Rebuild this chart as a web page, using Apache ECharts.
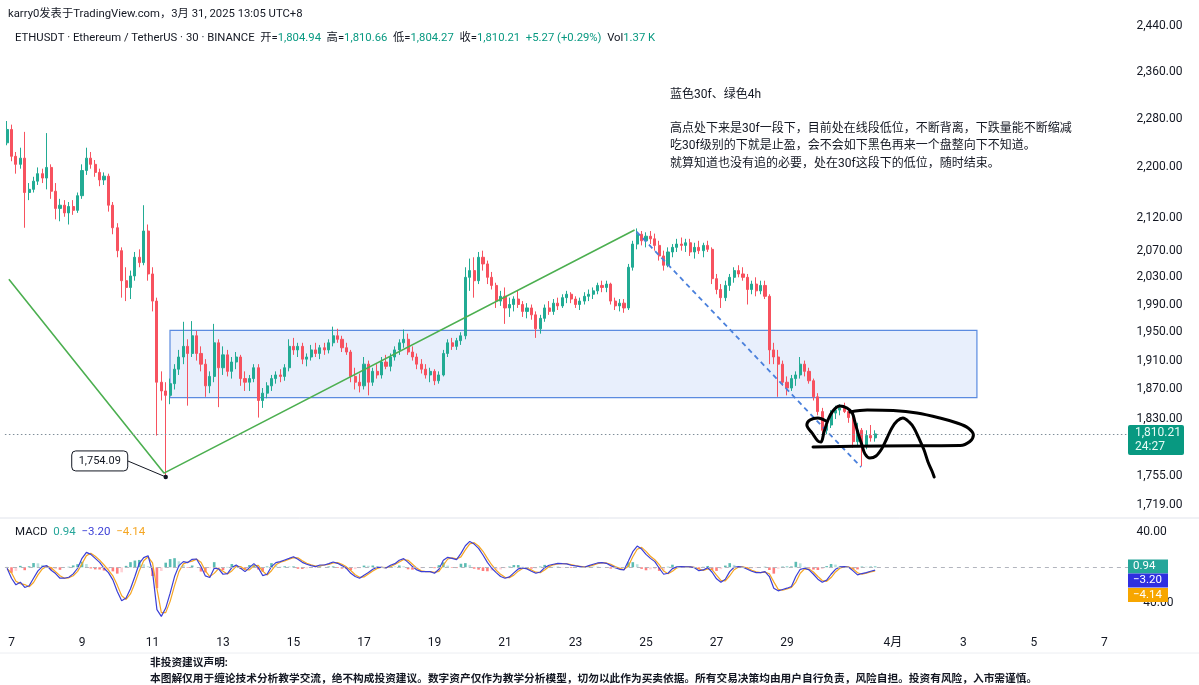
<!DOCTYPE html>
<html><head><meta charset="utf-8">
<script src="https://cdn.jsdelivr.net/npm/echarts@6/dist/echarts.min.js"></script>
<style>html,body{margin:0;padding:0;background:#fff}#c{width:1199px;height:685px}</style>
</head><body><div id="c"></div>
<script>
// 3-hour candles: [open, close, low, high]; bar 0 = Mar 6 21:00 (UTC+8)
const ohlc = [
[2240,2262,2236,2276],[2262,2218,2210,2270],[2218,2205,2190,2225],[2205,2215,2198,2232],[2215,2160,2105,2258],
[2160,2165,2148,2175],[2165,2178,2160,2185],[2178,2190,2172,2200],[2190,2183,2175,2198],[2183,2200,2165,2256],
[2200,2162,2150,2205],[2162,2135,2118,2175],[2135,2140,2115,2150],[2140,2128,2122,2148],[2128,2138,2110,2145],
[2138,2132,2125,2148],[2132,2155,2128,2160],[2155,2195,2150,2205],[2195,2215,2188,2232],[2215,2205,2198,2225],
[2205,2192,2185,2212],[2192,2180,2170,2198],[2180,2186,2172,2192],[2186,2140,2130,2190],[2140,2105,2095,2145],
[2105,2070,2060,2112],[2070,2025,2000,2075],[2025,2015,1995,2045],[2015,2032,1998,2040],[2032,2060,2025,2068],
[2060,2052,2045,2072],[2052,2100,2048,2140],[2100,2035,2025,2110],[2035,1995,1980,2045],[1995,1880,1808,2000],
[1880,1868,1855,1895],[1868,1862,1754.09,1880],[1862,1878,1850,1885],[1878,1898,1870,1905],[1898,1915,1890,1925],
[1915,1930,1905,1965],[1930,1920,1848,1940],[1920,1945,1915,1966],[1945,1920,1910,1952],[1920,1905,1895,1930],
[1905,1875,1860,1912],[1875,1888,1865,1895],[1888,1935,1880,1962],[1935,1900,1846,1940],[1900,1918,1890,1930],
[1918,1895,1888,1925],[1895,1908,1885,1915],[1908,1915,1898,1922],[1915,1885,1875,1918],[1885,1880,1868,1895],
[1880,1885,1868,1890],[1885,1900,1880,1905],[1900,1855,1832,1905],[1855,1865,1845,1872],[1865,1875,1858,1880],
[1875,1885,1868,1890],[1885,1890,1878,1895],[1890,1888,1880,1898],[1888,1900,1882,1905],[1900,1930,1895,1940],
[1930,1925,1918,1942],[1925,1930,1915,1935],[1930,1912,1905,1935],[1912,1915,1902,1920],[1915,1925,1910,1932],
[1925,1920,1915,1935],[1920,1928,1912,1932],[1928,1925,1918,1935],[1925,1935,1920,1940],[1935,1945,1930,1958],
[1945,1940,1935,1955],[1940,1928,1922,1945],[1928,1922,1918,1935],[1922,1888,1880,1925],[1888,1880,1870,1900],
[1880,1875,1866,1892],[1875,1905,1870,1915],[1905,1880,1862,1910],[1880,1895,1875,1900],[1895,1890,1885,1905],
[1890,1908,1885,1915],[1908,1902,1898,1918],[1902,1915,1895,1920],[1915,1925,1910,1930],[1925,1935,1918,1940],
[1935,1940,1928,1954],[1940,1922,1918,1948],[1922,1915,1910,1930],[1915,1905,1898,1920],[1905,1898,1892,1912],
[1898,1890,1885,1905],[1890,1895,1880,1900],[1895,1882,1876,1898],[1882,1890,1878,1895],[1890,1920,1888,1925],
[1920,1935,1915,1940],[1935,1930,1925,1942],[1930,1938,1925,1942],[1938,1945,1932,1950],[1945,2030,1940,2045],
[2030,2040,2010,2058],[2040,2025,2000,2060],[2025,2060,2020,2068],[2060,2050,2040,2070],[2050,2030,2020,2055],
[2030,2018,2012,2038],[2018,1995,1985,2022],[1995,2002,1988,2010],[2002,1985,1962,2015],[1985,1990,1972,2000],
[1990,1998,1980,2002],[1998,1990,1985,2010],[1990,1980,1972,1995],[1980,1985,1970,1992],[1985,1975,1968,1990],
[1975,1955,1942,1980],[1955,1970,1948,1975],[1970,1985,1965,1990],[1985,1980,1975,1995],[1980,1992,1975,1998],
[1992,1988,1982,2000],[1988,2000,1985,2005],[2000,2005,1992,2010],[2005,1998,1992,2008],[1998,1990,1985,2002],
[1990,1995,1982,2000],[1995,2002,1990,2008],[2002,2005,1995,2012],[2005,2010,1998,2015],[2010,2018,2005,2022],
[2018,2015,2008,2025],[2015,2020,2008,2025],[2020,1995,1990,2022],[1995,1988,1982,2000],[1988,1992,1980,1998],
[1992,1985,1978,1998],[1985,2045,1982,2050],[2045,2080,2040,2085],[2080,2095,2072,2104],[2095,2085,2078,2100],
[2085,2092,2075,2098],[2092,2088,2080,2100],[2088,2078,2070,2096],[2078,2062,2055,2085],[2062,2048,2040,2070],
[2048,2068,2045,2075],[2068,2075,2060,2080],[2075,2080,2068,2088],[2080,2078,2070,2090],[2078,2082,2068,2088],
[2082,2068,2062,2088],[2068,2075,2058,2082],[2075,2070,2065,2085],[2070,2078,2060,2082],[2078,2072,2068,2085],
[2072,2028,2020,2075],[2028,2012,2005,2035],[2012,2000,1985,2020],[2000,2018,1995,2025],[2018,2030,2010,2035],
[2030,2040,2022,2045],[2040,2035,2030,2048],[2035,2030,2025,2045],[2030,2012,1990,2035],[2012,2020,2005,2025],
[2020,2010,2002,2030],[2010,2018,2005,2025],[2018,2002,1998,2025],[2002,1925,1905,2005],[1925,1915,1905,1935],
[1915,1905,1860,1925],[1905,1880,1875,1910],[1880,1872,1862,1888],[1872,1885,1868,1890],[1885,1890,1875,1895],
[1890,1905,1885,1915],[1905,1895,1888,1910],[1895,1882,1878,1900],[1882,1860,1855,1885],[1860,1840,1835,1865],
[1840,1815,1808,1845],[1815,1822,1810,1828],[1822,1838,1818,1842],[1838,1842,1830,1848],[1842,1845,1835,1850],
[1845,1840,1838,1852],[1840,1832,1825,1845],[1832,1800,1792,1835],[1800,1815,1795,1825],[1815,1795,1768,1818],
[1795,1808,1790,1815],[1808,1804.94,1800,1822],[1804.94,1810.21,1800,1815]
];
const macdLine = [
-1.1,-12.4,-19.9,-16.9,-22.9,-21,-12.4,-4.1,0.8,1.9,
-3.4,-7.1,-12.4,-12.4,-11.3,-7.5,-1.1,10.1,16.9,14.6,
10.1,5.6,-1.1,-6,-14.3,-27.4,-37.9,-34.9,-24.4,-10.5,
4.5,10.9,13.1,-4.9,-48,-55.6,-46.2,-29.3,-10.5,1.9,
6.4,5.3,9,9.4,0.8,-9.8,-11.6,-1.1,-1.9,-7.9,
-7.1,-0.4,2.6,-1.1,-4.9,-0.4,4.1,-0.4,-9.4,-7.9,
0.8,5.3,6.4,8.3,10.1,12,9,5.6,3.4,1.9,
0.8,2.6,2.6,4.1,6,4.5,1.9,-1.1,-6.8,-10.5,
-12.4,-9,-6,-2.3,0,0,-0.8,2.3,4.1,7.9,
9.8,5.6,0.8,-3,-4.9,-4.9,-4.9,-6.8,-2.3,7.9,
11.3,10.1,8.6,15.8,24.4,29.3,26.3,21.4,13.9,5.6,
-1.1,-6,-10.5,-12.4,-10.9,-6.4,-1.9,-0.8,-1.9,-4.5,
-6.8,-5.3,-0.4,2.3,3.4,4.5,4.1,3.8,2.3,1.5,
0.8,0,1.9,3.4,4.9,5.3,4.5,1.9,-0.4,-2.3,
-3,7.1,17.7,24,20.7,14.6,10.1,6.4,-1.1,-7.9,
-6.8,-1.5,0.4,0.8,0.4,0.4,-0.4,-3.8,-3,-0.4,
-5.6,-13.1,-16.9,-13.5,-4.9,0,0.8,0,-2.3,-4.5,
-6,-6,-4.9,-10.5,-23.7,-26.7,-25.2,-23.7,-21.8,-10.5,
-2.3,-1.1,-3,-7.9,-13.5,-16.9,-14.6,-7.9,-2.3,0.4,
0.8,0,-4.1,-8.6,-7.1,-6,-4.5,-3.2
];
const signalLine = [
-1.5,-6.2,-15.8,-18.5,-19.6,-22.1,-17.2,-8.6,-1.9,1.3,
-0.5,-5.1,-9.5,-12.4,-11.9,-9.6,-4.6,3.9,13.2,15.9,
12.5,8.1,2.6,-3.3,-9.7,-20.2,-32.2,-36.5,-30.2,-18.1,
-3.8,7.4,11.9,5,-24.3,-51.4,-51.4,-38.6,-20.8,-4.9,
3.9,5.9,7,9.2,5.6,-4,-10.6,-6.9,-1.5,-4.6,
-7.5,-4.1,1,0.9,-2.8,-2.9,1.6,2.1,-4.4,-8.8,
-3.9,2.8,5.8,7.2,9.1,11,10.7,7.5,4.6,2.8,
1.4,1.6,2.6,3.2,5,5.3,3.4,0.5,-3.7,-8.4,
-11.4,-10.9,-7.7,-4.3,-1.3,0,-0.4,0.6,3.1,5.9,
8.7,7.9,3.5,-1,-3.9,-4.9,-4.9,-5.8,-4.7,2.3,
9.4,10.7,9.5,11.8,19.7,26.6,27.9,24.1,18.1,10.1,
2.6,-3.3,-8,-11.4,-11.7,-8.9,-4.4,-1.4,-1.3,-3,
-5.6,-6.1,-3.1,0.8,2.8,3.9,4.3,4,3.1,2,
1.2,0.4,0.9,2.5,4.1,5.1,4.9,3.4,0.8,-1.2,
-2.7,1.5,11.9,20.5,22.5,18,12.5,8.5,3,-4.2,
-7.4,-4.4,-0.6,0.6,0.6,0.4,0,-1.9,-3.5,-1.9,
-2.7,-9,-14.8,-15.4,-9.6,-2.7,0.4,0.4,-1,-3.3,
-5.2,-6,-5.5,-7.4,-16.5,-25,-26,-24.6,-22.8,-16.7,
-6.8,-1.8,-2,-5.3,-10.4,-15,-15.9,-11.6,-5.3,-1.1,
0.6,0.4,-1.8,-6.2,-7.9,-6.6,-5.3,-4.14
];
const histogram = [
0.4,-6.2,-4.1,1.6,-3.3,1.1,4.8,4.5,2.7,0.6,
-2.9,-2,-2.9,0,0.6,2.1,3.5,6.2,3.7,-1.3,
-2.4,-2.5,-3.7,-2.7,-4.6,-7.2,-5.7,1.6,5.8,7.6,
8.3,3.5,1.2,-9.9,-23.7,-4.2,5.2,9.3,10.3,6.8,
2.5,-0.6,2,0.2,-4.8,-5.8,-1,5.8,-0.4,-3.3,
0.4,3.7,1.6,-2,-2.1,2.5,2.5,-2.5,-5,0.9,
4.7,2.5,0.6,1.1,1,1,-1.7,-1.9,-1.2,-0.9,
-0.6,1,0,0.9,1,-0.8,-1.5,-1.6,-3.1,-2.1,
-1,1.9,1.7,2,1.3,0,-0.4,1.7,1,2,
1.1,-2.3,-2.7,-2,-1,0,0,-1,2.4,5.6,
1.9,-0.6,-0.9,4,4.7,2.7,-1.6,-2.7,-4.2,-4.5,
-3.7,-2.7,-2.5,-1,0.8,2.5,2.5,0.6,-0.6,-1.5,
-1.2,0.8,2.7,1.5,0.6,0.6,-0.2,-0.2,-0.8,-0.5,
-0.4,-0.4,1,0.9,0.8,0.2,-0.4,-1.5,-1.2,-1.1,
-0.3,5.6,5.8,3.5,-1.8,-3.4,-2.4,-2.1,-4.1,-3.7,
0.6,2.9,1,0.2,-0.2,0,-0.4,-1.9,0.5,1.5,
-2.9,-4.1,-2.1,1.9,4.7,2.7,0.4,-0.4,-1.3,-1.2,
-0.8,0,0.6,-3.1,-7.2,-1.7,0.8,0.9,1,6.2,
4.5,0.7,-1,-2.6,-3.1,-1.9,1.3,3.7,3,1.5,
0.2,-0.4,-2.3,-2.4,0.8,0.6,0.8,0.94
];
const priceTicks = [2440,2360,2280,2200,2120,2070,2030,1990,1950,1910,1870,1830,1755,1719];
const macdTicks = [40,-40];
const dayLabels  = ['7','9','11','13','15','17','19','21','23','25','27','29','4月','3','5','7'];
const dayOffsets = [0,2,4,6,8,10,12,14,16,18,20,22,25,27,29,31]; // days after Mar 7 00:00
const barsPerDay = 8, firstDayBar = 1, totalSlots = 255;
const lastBar = {open:1804.94, high:1810.66, low:1804.27, close:1810.21, chg:'+5.27 (+0.29%)', vol:'1.37 K', countdown:'24:27'};
const macdLast = {hist:0.94, macd:-3.20, signal:-4.14};
const lowPoint = [36, 1754.09];
// drawings, in [bar, price]
const greenLeg = [[0.4,2027],[35.6,1759],[142.4,2101.5]];
const blueLeg  = [[142.85,2099],[193.8,1766.8]];
const zone = {from:36.97, to:220.1, top:1952.6, bottom:1859};
const scribbleA = [[185.85,1827.4],[184.0,1831.4],[182.2,1828.7],[181.5,1822.0],[182.7,1811.4],[184.0,1800.8],[184.7,1799.5],
 [185.4,1812.7],[186.3,1828.7],[187.4,1840.8],[189.0,1847.5],[190.6,1844.8],[191.8,1838.1],[192.4,1826.1],[193.1,1811.4],
 [194.0,1795.6],[194.7,1783.8],[195.8,1778.6],[197.2,1781.2],[198.6,1791.6],[199.7,1804.8],[200.8,1818.1],[202.0,1827.4],
 [203.3,1831.4],[204.7,1826.1],[205.8,1818.1],[206.9,1804.8],[208.1,1789.0],[209.0,1773.4],[209.9,1761.7],[210.4,1754.0]];
const scribbleB = [[182.9,1792.9],[198.1,1794.3],[216.3,1794.9],[218.5,1800.2],[219.3,1808.7],[218.1,1818.1],[215.6,1824.7],
 [211.7,1831.4],[206.5,1838.1],[201.1,1841.4],[195.2,1842.1],[191.3,1839.5]];
const noteTitle = '蓝色30f、绿色4h';
const noteLines = ['高点处下来是30f一段下，目前处在线段低位，不断背离，下跌量能不断缩减',
 '吃30f级别的下就是止盈，会不会如下黑色再来一个盘整向下不知道。',
 '就算知道也没有追的必要，处在30f这段下的低位，随时结束。'];
const disclaimer = ['非投资建议声明:',
 '本图解仅用于缠论技术分析教学交流，绝不构成投资建议。数字资产仅作为教学分析模型，切勿以此作为买卖依据。所有交易决策均由用户自行负责，风险自担。投资有风险，入市需谨慎。'];

const FONT = 'Roboto, "Noto Sans CJK SC", sans-serif';
const UP = '#22ab94', DOWN = '#f7525f';
function fmt(v){ const s = Math.abs(v).toFixed(2).replace(/\B(?=(\d{3})+(?!\d))/g, ','); return (v < 0 ? '−' : '') + s; }
const cats = Array.from({length: totalSlots}, (_, i) => i);
const tickVals = dayOffsets.map(d => firstDayBar + barsPerDay * d);
const tickMap = {}; tickVals.forEach((v, k) => tickMap[v] = dayLabels[k]);

const GL = 4.9, GW = 1123.6;
const chart = echarts.init(document.getElementById('c'), null, {renderer: 'canvas'});
const option = {
  animation: false,
  backgroundColor: '#ffffff',
  grid: [
    {left: GL, width: GW, top: 0, height: 517, containLabel: false, outerBoundsMode: 'none'},
    {left: GL, width: GW, top: 519, height: 109, containLabel: false, outerBoundsMode: 'none'}
  ],
  xAxis: [
    {type: 'category', gridIndex: 0, data: cats, show: false},
    {type: 'value', gridIndex: 0, min: -0.5, max: totalSlots - 0.5, show: false},
    {type: 'category', gridIndex: 1, data: cats, show: false},
    {type: 'value', gridIndex: 1, min: -0.5, max: totalSlots - 0.5, position: 'bottom',
      axisLine: {show: false}, axisTick: {show: false}, splitLine: {show: false},
      axisLabel: {customValues: tickVals, margin: 9, fontSize: 12, fontFamily: FONT, color: '#131722',
        formatter: v => tickMap[Math.round(v)] || ''}}
  ],
  yAxis: [
    {type: 'log', logBase: 10, gridIndex: 0, position: 'right', min: 1703.4, max: 2486.8,
      axisLine: {show: false}, axisTick: {show: false}, splitLine: {show: false},
      axisLabel: {customValues: priceTicks, inside: false, margin: 8, align: 'left', fontSize: 12, fontFamily: FONT, color: '#131722',
        formatter: v => fmt(v)}},
    {type: 'value', gridIndex: 1, position: 'right', min: -68.8, max: 54.7,
      axisLine: {show: false}, axisTick: {show: false}, splitLine: {show: false},
      axisLabel: {customValues: macdTicks, margin: 8, align: 'left', fontSize: 12, fontFamily: FONT, color: '#131722',
        formatter: v => fmt(v)}}
  ],
  series: [
    {type: 'line', xAxisIndex: 1, yAxisIndex: 0, data: [], z: 1, silent: true,
      markArea: {silent: true, itemStyle: {color: 'rgba(66,120,230,0.12)', borderColor: '#5b8be0', borderWidth: 1.2},
        data: [[{coord: [zone.from, zone.top]}, {coord: [zone.to, zone.bottom]}]]}},
    {type: 'candlestick', xAxisIndex: 0, yAxisIndex: 0, data: ohlc, barWidth: 2.6, z: 3,
      itemStyle: {color: UP, color0: DOWN, borderColor: UP, borderColor0: DOWN, borderWidth: 1},
      markLine: {silent: true, symbol: 'none', label: {show: false},
        lineStyle: {type: [1.5, 2.5], color: '#7f8d99', width: 1}, data: [{yAxis: lastBar.close}]}},
    {type: 'line', xAxisIndex: 1, yAxisIndex: 0, data: greenLeg, z: 4, symbol: 'none',
      lineStyle: {color: '#4caf50', width: 1.6}},
    {type: 'line', xAxisIndex: 1, yAxisIndex: 0, data: blueLeg, z: 4, symbol: 'none',
      lineStyle: {color: '#4a80dc', width: 1.8, type: [5, 4]}},
    {type: 'line', xAxisIndex: 1, yAxisIndex: 0, data: scribbleA, z: 6, symbol: 'none', smooth: 0.35,
      lineStyle: {color: '#000', width: 3, cap: 'round', join: 'round'}},
    {type: 'line', xAxisIndex: 1, yAxisIndex: 0, data: scribbleB, z: 6, symbol: 'none', smooth: 0.35,
      lineStyle: {color: '#000', width: 3, cap: 'round', join: 'round'}},
    {type: 'bar', xAxisIndex: 2, yAxisIndex: 1, barWidth: 2.6, z: 2,
      data: histogram.map((v, i) => {
        const p = i > 0 ? histogram[i - 1] : 0;
        const col = v >= 0 ? (v >= p ? 'rgba(38,166,154,0.75)' : 'rgba(178,223,219,0.9)')
                           : (v < p ? 'rgba(255,82,82,0.75)' : 'rgba(255,205,210,0.9)');
        return {value: v, itemStyle: {color: col}};
      }),
      markLine: {silent: true, symbol: 'none', label: {show: false},
        lineStyle: {type: [4, 4], color: '#b2b5be', width: 1}, data: [{yAxis: 0}]}},
    {type: 'line', xAxisIndex: 2, yAxisIndex: 1, data: signalLine, z: 3, symbol: 'none',
      lineStyle: {color: '#f5a623', width: 1.2}},
    {type: 'line', xAxisIndex: 2, yAxisIndex: 1, data: macdLine, z: 4, symbol: 'none',
      lineStyle: {color: '#3b3fd6', width: 1.2}}
  ]
};
chart.setOption(option);

const px = (xy) => chart.convertToPixel({xAxisIndex: 1, yAxisIndex: 0}, xy);
const mPy = (v) => chart.convertToPixel({yAxisIndex: 1}, v);
const pPy = (v) => chart.convertToPixel({yAxisIndex: 0}, v);
const dot = px(lowPoint);
const boxR = dot[0] - 38, boxCY = dot[1] - 16;
const priceY = pPy(lastBar.close);
const h0 = mPy(macdLast.hist);
const txt = (x, y, text, size, color, extra) => Object.assign({type: 'text', x: x, y: y, z: 50,
  style: Object.assign({text: text, fontSize: size, fontFamily: FONT, fill: color, verticalAlign: 'middle'}, extra || {})});
const G = '#089981';
const HS = 11.3;
const graphics = [
  {type: 'line', shape: {x1: 0, y1: 518, x2: 1199, y2: 518}, style: {stroke: '#e0e3eb', lineWidth: 1}, z: 40},
  {type: 'line', shape: {x1: 0, y1: 653, x2: 1199, y2: 653}, style: {stroke: '#eceef2', lineWidth: 1}, z: 40},
  txt(8, 14, 'karry0发表于TradingView.com，3月 31, 2025 13:05 UTC+8', HS, '#131722'),
  {type: 'text', x: 15, y: 38, z: 50, style: {
    text: '{k|ETHUSDT · Ethereum / TetherUS · 30 · BINANCE}  {k|开=}{g|' + fmt(lastBar.open) + '}  {k|高=}{g|' + fmt(lastBar.high) +
      '}  {k|低=}{g|' + fmt(lastBar.low) + '}  {k|收=}{g|' + fmt(lastBar.close) + '}  {g|' + lastBar.chg + '}  {k|Vol}{g|' + lastBar.vol + '}',
    fontSize: HS, fontFamily: FONT, verticalAlign: 'middle',
    rich: {k: {fill: '#131722', fontSize: HS, fontFamily: FONT}, g: {fill: G, fontSize: HS, fontFamily: FONT}}}},
  {type: 'text', x: 15, y: 532, z: 50, style: {
    text: '{k|MACD}  {t|' + fmt(macdLast.hist) + '}  {b|' + fmt(macdLast.macd) + '}  {o|' + fmt(macdLast.signal) + '}',
    fontSize: 11.5, fontFamily: FONT, verticalAlign: 'middle',
    rich: {k: {fill: '#131722', fontSize: 11.5, fontFamily: FONT}, t: {fill: '#26a69a', fontSize: 11.5, fontFamily: FONT},
      b: {fill: '#3b3fd6', fontSize: 11.5, fontFamily: FONT}, o: {fill: '#f5a623', fontSize: 11.5, fontFamily: FONT}}}},
  txt(670, 95, noteTitle, 12, '#131722'),
  txt(670, 128.5, noteLines[0], 12, '#131722'),
  txt(670, 146, noteLines[1], 12, '#131722'),
  txt(670, 163.5, noteLines[2], 12, '#131722'),
  txt(150, 663, disclaimer[0], 10.7, '#131722', {fontWeight: 'bold'}),
  txt(150, 679, disclaimer[1], 10.7, '#131722', {fontWeight: 'bold'}),
  // low callout
  {type: 'line', z: 45, shape: {x1: boxR, y1: boxCY, x2: dot[0], y2: dot[1]}, style: {stroke: '#131722', lineWidth: 1}},
  {type: 'rect', z: 46, shape: {x: boxR - 56, y: boxCY - 10, width: 56, height: 20, r: 4}, style: {fill: '#fff', stroke: '#131722', lineWidth: 1}},
  txt(boxR - 28, boxCY, fmt(lowPoint[1]), 11, '#131722', {align: 'center'}),
  {type: 'circle', z: 47, shape: {cx: dot[0], cy: dot[1], r: 2.2}, style: {fill: '#131722'}},
  // last price box
  {type: 'rect', z: 48, shape: {x: 1128, y: priceY - 9, width: 56, height: 30, r: 2}, style: {fill: G}},
  txt(1135, priceY - 1, fmt(lastBar.close), 12, '#e8fbf5'),
  txt(1135, priceY + 13, lastBar.countdown, 12, '#e8fbf5'),
  // MACD value boxes
  {type: 'rect', z: 48, shape: {x: 1128, y: h0 - 7, width: 40, height: 14}, style: {fill: '#26a69a'}},
  txt(1133, h0, fmt(macdLast.hist), 11.5, '#ffffff'),
  {type: 'rect', z: 48, shape: {x: 1128, y: h0 + 7, width: 40, height: 14}, style: {fill: '#2f2fe0'}},
  txt(1133, h0 + 14, fmt(macdLast.macd), 11.5, '#ffffff'),
  {type: 'rect', z: 48, shape: {x: 1128, y: h0 + 21.5, width: 40, height: 14}, style: {fill: '#f7a600'}},
  txt(1133, h0 + 28.5, fmt(macdLast.signal), 11.5, '#ffffff')
];
chart.setOption({graphic: graphics});
</script></body></html>
